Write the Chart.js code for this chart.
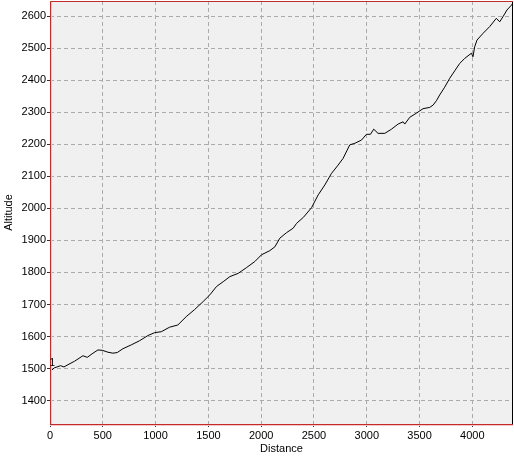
<!DOCTYPE html>
<html>
<head>
<meta charset="utf-8">
<script src="https://cdn.jsdelivr.net/npm/chart.js@4/dist/chart.umd.min.js"></script>
<style>
  html, body { margin: 0; padding: 0; background: #fff; }
  #chart { display: block; }
</style>
</head>
<body>
<canvas id="chart" width="514" height="457"></canvas>
<script>
// distance (x) and altitude (y)
const distance = [0, 40, 100, 132, 170, 233, 312, 353, 407, 454, 495, 549, 596, 637, 691, 770, 849, 927, 991, 1054,
  1132, 1211, 1290, 1369, 1450, 1514, 1577, 1640, 1704, 1782, 1861, 1940, 2003, 2082, 2130, 2177, 2240, 2303, 2335, 2400,
  2477, 2540, 2603, 2666, 2729, 2776, 2839, 2887, 2950, 2997, 3035, 3066, 3107, 3171, 3234, 3297, 3344, 3360, 3407, 3470,
  3533, 3596, 3628, 3660, 3691, 3738, 3786, 3833, 3880, 3928, 3991, 4006, 4022, 4044, 4101, 4164, 4227, 4259, 4290, 4328,
  4370, 4385];
const altitude = [1490, 1502, 1509, 1505, 1512, 1523, 1540, 1535, 1548, 1558, 1557, 1551, 1548, 1550, 1562, 1574, 1587, 1603, 1612, 1615,
  1629, 1636, 1662, 1684, 1709, 1730, 1756, 1771, 1787, 1797, 1815, 1834, 1855, 1868, 1880, 1907, 1924, 1938, 1953, 1972,
  2002, 2042, 2073, 2109, 2135, 2156, 2198, 2203, 2213, 2231, 2231, 2247, 2234, 2234, 2247, 2263, 2270, 2263, 2284, 2297,
  2311, 2315, 2322, 2336, 2354, 2378, 2406, 2429, 2452, 2468, 2484, 2473, 2504, 2525, 2546, 2567, 2593, 2582, 2598, 2619,
  2634, 2641];

const xTicks = [0, 500, 1000, 1500, 2000, 2500, 3000, 3500, 4000];
const yTicks = [1400, 1500, 1600, 1700, 1800, 1900, 2000, 2100, 2200, 2300, 2400, 2500, 2600];
const xRange = [0, 4385];
const yRange = [1327, 2647];
const markerLabel = { text: '1', x: 22, y: 1516 };

const tickFont = { family: 'Liberation Sans', size: 11 };

// plot background + the odd red/black frame
const frame = {
  id: 'frame',
  beforeDraw(chart) {
    const a = chart.chartArea, ctx = chart.ctx;
    ctx.save();
    ctx.fillStyle = '#f0f0f0';
    ctx.fillRect(a.left, a.top, a.right - a.left, a.bottom - a.top);
    ctx.restore();
  },
  afterDraw(chart) {
    const a = chart.chartArea, ctx = chart.ctx;
    ctx.save();
    ctx.lineWidth = 1;
    ctx.strokeStyle = '#c42a2a';
    ctx.beginPath();
    ctx.moveTo(a.right, a.top + 0.5);
    ctx.lineTo(a.left + 0.5, a.top + 0.5);
    ctx.lineTo(a.left + 0.5, a.bottom + 0.5);
    ctx.lineTo(a.right, a.bottom + 0.5);
    ctx.stroke();
    ctx.strokeStyle = '#f3c8c8';
    ctx.beginPath();
    ctx.moveTo(a.left + 1.5, a.top + 1);
    ctx.lineTo(a.left + 1.5, a.bottom);
    ctx.moveTo(a.left, a.bottom + 1.5);
    ctx.lineTo(a.right, a.bottom + 1.5);
    ctx.stroke();
    ctx.strokeStyle = '#000';
    ctx.beginPath();
    ctx.moveTo(a.right - 0.5, a.top + 1);
    ctx.lineTo(a.right - 0.5, a.bottom);
    ctx.stroke();

    const xs = chart.scales.x, ys = chart.scales.y;
    ctx.fillStyle = '#000';
    ctx.font = '10px "Liberation Sans"';
    ctx.textAlign = 'center';
    ctx.textBaseline = 'middle';
    ctx.fillText(markerLabel.text, xs.getPixelForValue(markerLabel.x), ys.getPixelForValue(markerLabel.y));
    ctx.restore();
  }
};

new Chart(document.getElementById('chart'), {
  type: 'line',
  data: {
    datasets: [{
      data: distance.map((d, i) => ({ x: d, y: altitude[i] })),
      borderColor: '#000',
      borderWidth: 1,
      pointRadius: 0,
      tension: 0,
      fill: false
    }]
  },
  options: {
    responsive: false,
    animation: false,
    layout: { padding: { top: 1, right: 1, left: 0, bottom: 0 } },
    plugins: { legend: { display: false }, tooltip: { enabled: false } },
    scales: {
      x: {
        type: 'linear',
        min: xRange[0],
        max: xRange[1],
        afterBuildTicks: (s) => { s.ticks = xTicks.map(v => ({ value: v })); },
        afterFit: (s) => { s.height = 33; s.paddingLeft = 0; s.paddingRight = 0; },
        ticks: { font: tickFont, color: '#000', padding: 2, maxRotation: 0, autoSkip: false, callback: (v) => String(v) },
        grid: { color: '#aaaaaa', tickColor: '#333', tickLength: 3, tickBorderDash: [] },
        border: { display: false, dash: [4, 3] },
        title: { display: true, text: 'Distance', font: tickFont, color: '#000', padding: { top: 1, bottom: 1 } }
      },
      y: {
        type: 'linear',
        min: yRange[0],
        max: yRange[1],
        afterBuildTicks: (s) => { s.ticks = yTicks.map(v => ({ value: v })); },
        afterFit: (s) => { s.width = 50; s.paddingTop = 0; s.paddingBottom = 0; },
        ticks: { font: tickFont, color: '#000', padding: 1, autoSkip: false, callback: (v) => String(v) },
        grid: { color: '#aaaaaa', tickColor: '#333', tickLength: 3, tickBorderDash: [] },
        border: { display: false, dash: [4, 3] },
        title: { display: true, text: 'Altitude', font: tickFont, color: '#000', padding: { top: 2, bottom: 2 } }
      }
    }
  },
  plugins: [frame]
});
</script>
</body>
</html>
